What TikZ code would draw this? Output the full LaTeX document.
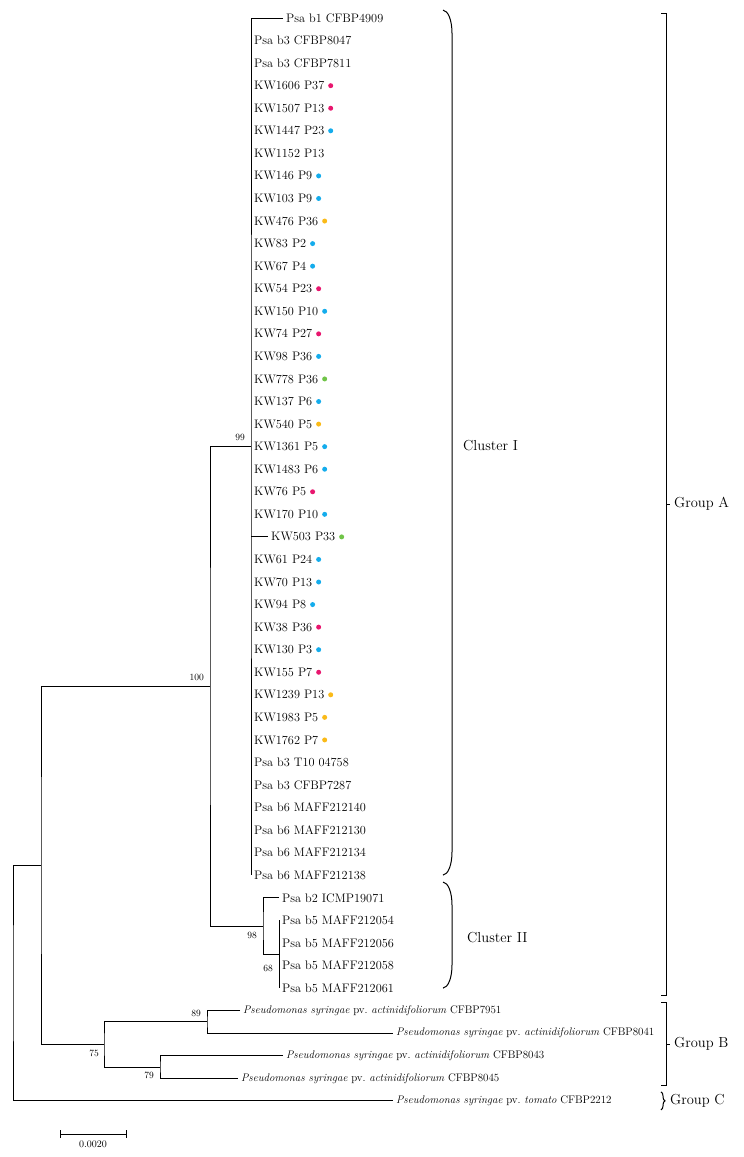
\documentclass[tikz,border=0pt]{standalone}
\usepackage{tikz}
\usepackage{xcolor}
\usetikzlibrary{positioning,decorations.pathreplacing}
\definecolor{dotpink}{RGB}{232,22,110}
\definecolor{dotblue}{RGB}{20,172,236}
\definecolor{dotyellow}{RGB}{250,186,24}
\definecolor{dotgreen}{RGB}{112,196,72}
\newcommand{\pvact}{\textit{Pseudomonas syringae} pv.\ \textit{actinidifoliorum}}

\begin{document}
\begin{tikzpicture}[
    x=1pt,y=-22.56pt,
    leaf/.style={anchor=west,inner xsep=3pt,inner ysep=1pt,font=\fontsize{12.3}{14}\selectfont},
    species/.style={leaf,font=\fontsize{11}{13}\selectfont},
    boot/.style={inner sep=1pt,font=\fontsize{9.5}{11}\selectfont},
    grp/.style={anchor=west,inner sep=0pt,font=\fontsize{14.5}{17}\selectfont},
    dot/.style={circle,inner sep=0pt,minimum size=5pt},
    branch/.style={line width=1pt},
    bracket/.style={line width=1pt}
  ]
    \useasboundingbox (0pt,18pt) rectangle (744pt,-1139pt);

    % inner nodes of the tree
    \coordinate (n99) at (251,19);
    \coordinate (n100) at (210,29.625);
    \coordinate (n98) at (263,40.25);
    \coordinate (n68) at (279,41.5);
    \coordinate (nA) at (41,37.5625);
    \coordinate (n89) at (207,44.5);
    \coordinate (n79) at (160,46.5);
    \coordinate (n75) at (104,45.5);
    \coordinate (nroot) at (13,42.8);

    % cluster I
    \node[leaf] (psa4909) at (283,0) {Psa b1 CFBP4909};
    \node[leaf] (psa8047) at (251,1) {Psa b3 CFBP8047};
    \node[leaf] (psa7811) at (251,2) {Psa b3 CFBP7811};
    \node[leaf] (kw1606) at (251,3) {KW1606 P37};
    \node[leaf] (kw1507) at (251,4) {KW1507 P13};
    \node[leaf] (kw1447) at (251,5) {KW1447 P23};
    \node[leaf] (kw1152) at (251,6) {KW1152 P13};
    \node[leaf] (kw146) at (251,7) {KW146 P9};
    \node[leaf] (kw103) at (251,8) {KW103 P9};
    \node[leaf] (kw476) at (251,9) {KW476 P36};
    \node[leaf] (kw83) at (251,10) {KW83 P2};
    \node[leaf] (kw67) at (251,11) {KW67 P4};
    \node[leaf] (kw54) at (251,12) {KW54 P23};
    \node[leaf] (kw150) at (251,13) {KW150 P10};
    \node[leaf] (kw74) at (251,14) {KW74 P27};
    \node[leaf] (kw98) at (251,15) {KW98 P36};
    \node[leaf] (kw778) at (251,16) {KW778 P36};
    \node[leaf] (kw137) at (251,17) {KW137 P6};
    \node[leaf] (kw540) at (251,18) {KW540 P5};
    \node[leaf] (kw1361) at (251,19) {KW1361 P5};
    \node[leaf] (kw1483) at (251,20) {KW1483 P6};
    \node[leaf] (kw76) at (251,21) {KW76 P5};
    \node[leaf] (kw170) at (251,22) {KW170 P10};
    \node[leaf] (kw503) at (268,23) {KW503 P33};
    \node[leaf] (kw61) at (251,24) {KW61 P24};
    \node[leaf] (kw70) at (251,25) {KW70 P13};
    \node[leaf] (kw94) at (251,26) {KW94 P8};
    \node[leaf] (kw38) at (251,27) {KW38 P36};
    \node[leaf] (kw130) at (251,28) {KW130 P3};
    \node[leaf] (kw155) at (251,29) {KW155 P7};
    \node[leaf] (kw1239) at (251,30) {KW1239 P13};
    \node[leaf] (kw1983) at (251,31) {KW1983 P5};
    \node[leaf] (kw1762) at (251,32) {KW1762 P7};
    \node[leaf] (psa04758) at (251,33) {Psa b3 T10 04758};
    \node[leaf] (psa7287) at (251,34) {Psa b3 CFBP7287};
    \node[leaf] (psa212140) at (251,35) {Psa b6 MAFF212140};
    \node[leaf] (psa212130) at (251,36) {Psa b6 MAFF212130};
    \node[leaf] (psa212134) at (251,37) {Psa b6 MAFF212134};
    \node[leaf] (psa212138) at (251,38) {Psa b6 MAFF212138};

    % cluster II
    \node[leaf] (psa19071) at (279,39) {Psa b2 ICMP19071};
    \node[leaf] (psa212054) at (279,40) {Psa b5 MAFF212054};
    \node[leaf] (psa212056) at (279,41) {Psa b5 MAFF212056};
    \node[leaf] (psa212058) at (279,42) {Psa b5 MAFF212058};
    \node[leaf] (psa212061) at (279,43) {Psa b5 MAFF212061};

    % groups B and C
    \node[species] (pav7951) at (240,44) {\pvact{} CFBP7951};
    \node[species] (pav8041) at (393,45) {\pvact{} CFBP8041};
    \node[species] (pav8043) at (283,46) {\pvact{} CFBP8043};
    \node[species] (pav8045) at (238,47) {\pvact{} CFBP8045};
    \node[species] (pto2212) at (393,48) {\textit{Pseudomonas syringae} pv.\ \textit{tomato} CFBP2212};

    % coloured dots
    \node[dot,fill=dotpink,right=0.5pt of kw1606] (d1606) {};
    \node[dot,fill=dotpink,right=0.5pt of kw1507] (d1507) {};
    \node[dot,fill=dotblue,right=0.5pt of kw1447] (d1447) {};
    \node[dot,fill=dotblue,right=0.5pt of kw146] (d146) {};
    \node[dot,fill=dotblue,right=0.5pt of kw103] (d103) {};
    \node[dot,fill=dotyellow,right=0.5pt of kw476] (d476) {};
    \node[dot,fill=dotblue,right=0.5pt of kw83] (d83) {};
    \node[dot,fill=dotblue,right=0.5pt of kw67] (d67) {};
    \node[dot,fill=dotpink,right=0.5pt of kw54] (d54) {};
    \node[dot,fill=dotblue,right=0.5pt of kw150] (d150) {};
    \node[dot,fill=dotpink,right=0.5pt of kw74] (d74) {};
    \node[dot,fill=dotblue,right=0.5pt of kw98] (d98) {};
    \node[dot,fill=dotgreen,right=0.5pt of kw778] (d778) {};
    \node[dot,fill=dotblue,right=0.5pt of kw137] (d137) {};
    \node[dot,fill=dotyellow,right=0.5pt of kw540] (d540) {};
    \node[dot,fill=dotblue,right=0.5pt of kw1361] (d1361) {};
    \node[dot,fill=dotblue,right=0.5pt of kw1483] (d1483) {};
    \node[dot,fill=dotpink,right=0.5pt of kw76] (d76) {};
    \node[dot,fill=dotblue,right=0.5pt of kw170] (d170) {};
    \node[dot,fill=dotgreen,right=0.5pt of kw503] (d503) {};
    \node[dot,fill=dotblue,right=0.5pt of kw61] (d61) {};
    \node[dot,fill=dotblue,right=0.5pt of kw70] (d70) {};
    \node[dot,fill=dotblue,right=0.5pt of kw94] (d94) {};
    \node[dot,fill=dotpink,right=0.5pt of kw38] (d38) {};
    \node[dot,fill=dotblue,right=0.5pt of kw130] (d130) {};
    \node[dot,fill=dotpink,right=0.5pt of kw155] (d155) {};
    \node[dot,fill=dotyellow,right=0.5pt of kw1239] (d1239) {};
    \node[dot,fill=dotyellow,right=0.5pt of kw1983] (d1983) {};
    \node[dot,fill=dotyellow,right=0.5pt of kw1762] (d1762) {};

    % branches
    \draw[branch] (psa4909.west) -| (n99) |- (psa212138.west);
    \draw[branch] (n99 |- kw503) -- (kw503.west);
    \draw[branch] (psa19071.west) -| (n98) |- (n68);
    \draw[branch] (psa212054.west) -- (psa212061.west);
    \draw[branch] (n99) -| (n100) |- (n98);
    \draw[branch] (pav7951.west) -| (n89) |- (pav8041.west);
    \draw[branch] (pav8043.west) -| (n79) |- (pav8045.west);
    \draw[branch] (n89) -| (n75) |- (n79);
    \draw[branch] (n100) -| (nA) |- (n75);
    \draw[branch] (nA) -| (nroot) |- (pto2212.west);

    % bootstrap values
    \node[boot,anchor=south east] (b99) at ([xshift=-5pt,yshift=5pt]n99) {99};
    \node[boot,anchor=south east] (b100) at ([xshift=-5pt,yshift=4.5pt]n100) {100};
    \node[boot,anchor=north east] (b98) at ([xshift=-5pt,yshift=-5pt]n98) {98};
    \node[boot,anchor=north east] (b68) at ([xshift=-5pt,yshift=-10pt]n68) {68};
    \node[boot,anchor=south east] (b89) at ([xshift=-5pt,yshift=4pt]n89) {89};
    \node[boot,anchor=north east] (b75) at ([xshift=-4pt,yshift=-4.5pt]n75) {75};
    \node[boot,anchor=north east] (b79) at ([xshift=-5pt,yshift=-3.5pt]n79) {79};

    % cluster brackets
    \draw[bracket] (443,-0.35) .. controls (448,-0.33) and (452,0.09) .. (452,0.67)
      -- (452,36.97) .. controls (452,37.55) and (448,37.97) .. (443,37.99);
    \node[grp] (clI) at (463,18.97) {Cluster I};
    \draw[bracket] (443,38.30) .. controls (448,38.32) and (452,38.74) .. (452,39.32)
      -- (452,41.98) .. controls (452,42.56) and (448,42.98) .. (443,43.0);
    \node[grp] (clII) at (467,40.74) {Cluster II};

    % group brackets
    \draw[bracket] (661,-0.22) -- (666,-0.22) -- (666,43.31) -- (661,43.31);
    \coordinate (tA) at (666,21.55);
    \node[grp] (grpA) at (674,21.55) {Group A};
    \draw[bracket] (tA) -- ([xshift=4pt]tA);
    \draw[bracket] (661,43.66) -- (666,43.66) -- (666,47.30) -- (661,47.30);
    \coordinate (tB) at (666,45.48);
    \node[grp] (grpB) at (674,45.48) {Group B};
    \draw[bracket] (tB) -- ([xshift=4pt]tB);
    \draw[bracket,decorate,decoration={brace,amplitude=4pt}] (661,47.6) -- (661,48.4);
    \node[grp] (grpC) at (670,48) {Group C};

    % scale bar
    \coordinate (sbl) at (60,49.47);
    \coordinate (sbr) at (126,49.47);
    \coordinate (sbm) at (93,49.47);
    \draw[branch] (sbl) -- (sbr);
    \draw[branch] ([yshift=4pt]sbl) -- ([yshift=-4pt]sbl);
    \draw[branch] ([yshift=4pt]sbr) -- ([yshift=-4pt]sbr);
    \node[boot,anchor=north,font=\fontsize{10}{12}\selectfont] (sbtext) at ([yshift=-6pt]sbm) {0.0020};
  \end{tikzpicture}
\end{document}
